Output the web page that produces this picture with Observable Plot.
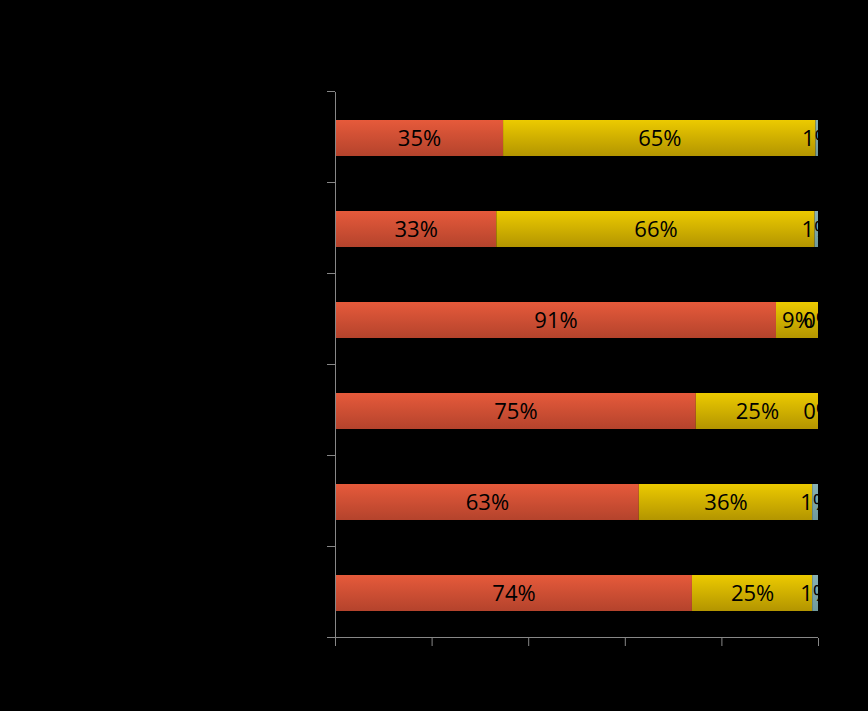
<!DOCTYPE html>
<html>
<head>
<meta charset="utf-8">
<script src="https://cdn.jsdelivr.net/npm/d3@7"></script>
<script src="https://cdn.jsdelivr.net/npm/@observablehq/plot@0.6"></script>
<style>
  html, body { margin: 0; padding: 0; background: #000; }
</style>
</head>
<body>
<div id="chart"></div>
<script>
// ---- data ----
const categories = ["Catégorie 1", "Catégorie 2", "Catégorie 3", "Catégorie 4", "Catégorie 5", "Catégorie 6"];
const series = ["Série 1", "Série 2", "Série 3"];
const values1 = [34.8, 33.4, 91.3, 74.7, 62.9, 73.9];
const values2 = [64.7, 65.9, 8.7, 25.3, 35.9, 24.9];
const values3 = [0.5, 0.7, 0.0, 0.0, 1.2, 1.2];
const labels1 = ["35%", "33%", "91%", "75%", "63%", "74%"];
const labels2 = ["65%", "66%", "9%", "25%", "36%", "25%"];
const labels3 = ["1%", "1%", "0%", "0%", "1%", "1%"];
const xTicks = [0, 20, 40, 60, 80, 100];

// ---- styles ----
const AXIS = "#878787";
const gradients = [
  {id: "g-red", top: "#e65a3b", bottom: "#b4432c"},
  {id: "g-yellow", top: "#ecca00", bottom: "#b39500"},
  {id: "g-teal", top: "#88b2b5", bottom: "#6f9a9d"}
];

const valueSets = [values1, values2, values3];
const labelSets = [labels1, labels2, labels3];
const rows = [];
categories.forEach((c, i) => {
  series.forEach((s, j) => {
    rows.push({category: c, series: s, value: valueSets[j][i], label: labelSets[j][i]});
  });
});

function defsMark() {
  const g = d3.create("svg:g");
  const defs = g.append("defs");
  gradients.forEach(gr => {
    const lg = defs.append("linearGradient").attr("id", gr.id)
      .attr("x1", 0).attr("y1", 0).attr("x2", 0).attr("y2", 1);
    lg.append("stop").attr("offset", "0%").attr("stop-color", gr.top);
    lg.append("stop").attr("offset", "100%").attr("stop-color", gr.bottom);
  });
  return g.node();
}

function yFrameMark(index, scales, values, dims) {
  const x = scales.x, y = scales.y;
  const n = categories.length;
  const inner = dims.height - dims.marginTop - dims.marginBottom;
  const step = (y.step ? y.step() : inner / n);
  const bw = (y.bandwidth ? y.bandwidth() : step * 0.4);
  const pad = (step - bw) / 2;
  const bounds = categories.map(c => y(c) - pad);
  bounds.push(y(categories[n - 1]) + bw + pad);
  const g = d3.create("svg:g")
    .attr("stroke", AXIS).attr("stroke-width", 1)
    .attr("shape-rendering", "crispEdges").attr("fill", "none");
  g.selectAll("line.t").data(bounds).join("line")
    .attr("x1", x(0) - 8).attr("x2", x(0))
    .attr("y1", d => d).attr("y2", d => d);
  g.append("line")
    .attr("x1", x(0)).attr("x2", x(100))
    .attr("y1", bounds[n]).attr("y2", bounds[n]);
  g.append("line")
    .attr("x1", x(0)).attr("x2", x(0))
    .attr("y1", bounds[0]).attr("y2", bounds[n]);
  return g.node();
}

const chart = Plot.plot({
  width: 868,
  height: 711,
  marginLeft: 335,
  marginRight: 50,
  marginTop: 92,
  marginBottom: 73,
  style: {background: "#000", color: AXIS, overflow: "visible"},
  x: {domain: [0, 100], axis: null},
  y: {domain: categories, paddingInner: 0.6, paddingOuter: 0.3, axis: null},
  color: {domain: series, range: gradients.map(g => `url(#${g.id})`)},
  marks: [
    defsMark,
    Plot.barX(rows, {x: "value", y: "category", fill: "series", dy: 1}),
    Plot.text(rows, Plot.stackX({
      x: "value", y: "category", z: "series", text: "label", dy: 1.5,
      fill: "#000", fontSize: 22, fontFamily: "Open Sans, Noto Sans, sans-serif",
      clip: true
    })),
    yFrameMark,
    Plot.axisX({
      anchor: "bottom", ticks: xTicks, tickSize: 8, tickFormat: () => "",
      stroke: AXIS, label: null
    })
  ]
});

document.getElementById("chart").appendChild(chart);
</script>
</body>
</html>
